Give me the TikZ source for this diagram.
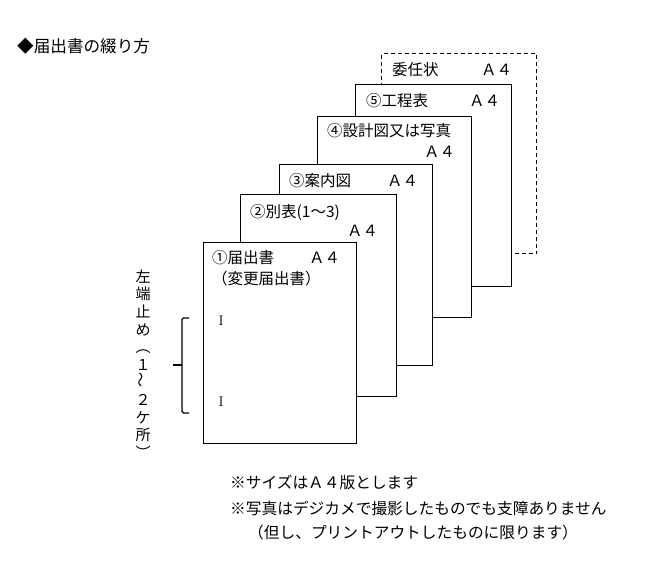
\documentclass[tikz,border=0pt]{standalone}
\usepackage{fontspec}
\newfontfamily\jp{Noto Sans CJK JP}
\usetikzlibrary{positioning,calc}
\tikzset{
  paper/.style={draw, fill=white, line width=1.4pt, anchor=north west, inner sep=0pt,
    minimum width=154pt, minimum height=201pt},
  dpaper/.style={paper, fill=none, dash pattern=on 4pt off 3pt},
  lbl/.style={anchor=west, inner sep=0pt, font={\jp\fontsize{15.5}{17}\selectfont}},
  note/.style={lbl, font={\jp\fontsize{15.7}{17}\selectfont}},
  hole/.style={inner sep=0pt, font=\fontsize{14}{14}\selectfont},
}

\begin{document}
\begin{tikzpicture}[x=1pt, y=-1pt]
\useasboundingbox (0,0) rectangle (650,586);

\node[lbl, font={\jp\fontsize{16.6}{18}\selectfont}] (title) at (17,46) {◆届出書の綴り方};

% sheets, back to front
\node[dpaper, minimum width=155pt, minimum height=200pt] (pd) at (381,53) {};
\node[lbl] (pdname) at ($(pd.north west)+(11,17)$) {委任状};
\node[lbl] (pdsize) at ($(pd.north west)+(100,17)$) {Ａ４};

\node[paper, minimum width=156pt, minimum height=202pt] (p5) at (355,84) {};
\node[lbl] (p5name) at ($(p5.north west)+(11,17)$) {⑤工程表};
\node[lbl] (p5size) at ($(p5.north west)+(114,17)$) {Ａ４};

\node[paper] (p4) at (317,116) {};
\node[lbl] (p4name) at ($(p4.north west)+(10,15)$) {④設計図又は写真};
\node[lbl] (p4size) at ($(p4.north west)+(107,36)$) {Ａ４};

\node[paper, minimum width=153pt] (p3) at (279,164) {};
\node[lbl] (p3name) at ($(p3.north west)+(10,17)$) {③案内図};
\node[lbl] (p3size) at ($(p3.north west)+(108,17)$) {Ａ４};

\node[paper, minimum width=156pt, minimum height=202pt] (p2) at (240,194) {};
\node[lbl] (p2name) at ($(p2.north west)+(10,18)$) {②別表(1～3)};
\node[lbl] (p2size) at ($(p2.north west)+(107,37)$) {Ａ４};

\node[paper, minimum width=153pt] (p1) at (203,242) {};
\node[lbl] (p1name) at ($(p1.north west)+(9,16)$) {①届出書};
\node[lbl] (p1size) at ($(p1.north west)+(106,16)$) {Ａ４};
\node[lbl] (p1sub) at ($(p1.north west)+(9,37)$) {（変更届出書）};

% staple marks
\node[hole] (hole1) at (221,321) {I};
\node[hole] (hole2) at (221,402) {I};

\draw[line width=1.1pt, rounded corners=1.5pt] (189,318) -- (182,318) -- (182,413) -- (189,413);
\draw[line width=1.1pt] (182,365) -- (173,365);

\node[inner sep=0pt, align=center, font={\jp\fontsize{15}{17.6}\selectfont}] (staple) at (143,364)
  {左\\端\\止\\め\\︵\\１\\\rotatebox{90}{～}\\２\\ケ\\所\\︶};

% notes
\node[note] (note1) at (230,482) {※サイズはＡ４版とします};
\node[note] (note2) at (230,508) {※写真はデジカメで撮影したものでも支障ありません};
\node[note] (note3) at (248,533) {（但し、プリントアウトしたものに限ります）};

\end{tikzpicture}
\end{document}
